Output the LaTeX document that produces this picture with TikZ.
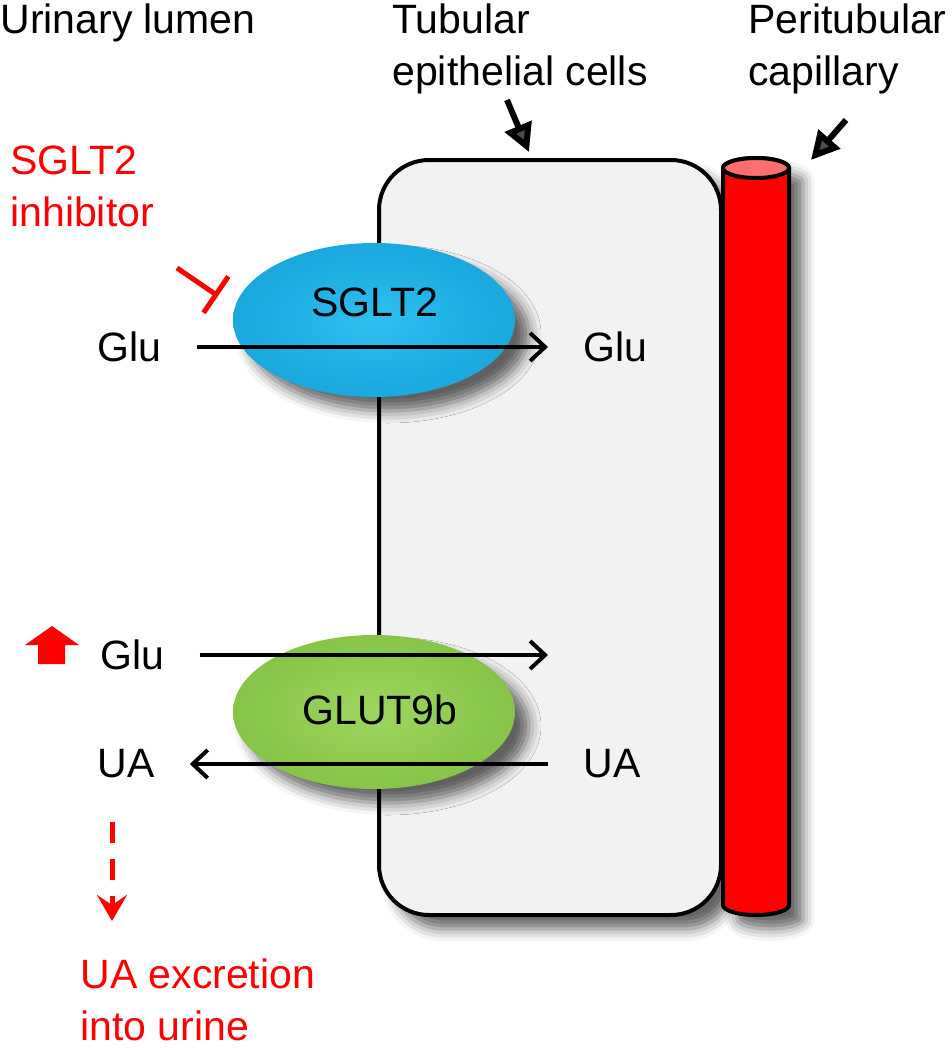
\documentclass[tikz,border=0pt]{standalone}
\usepackage{fontspec}
\setmainfont{Liberation Sans}
\usetikzlibrary{arrows.meta,shapes.geometric,shadows.blur,positioning}

\definecolor{cellgray}{HTML}{F2F2F2}
\definecolor{sgltin}{HTML}{2CC0F0}
\definecolor{sgltout}{HTML}{1AA8DE}
\definecolor{glutin}{HTML}{9CD65E}
\definecolor{glutout}{HTML}{86C548}
\definecolor{captop}{HTML}{FF6F6F}

\begin{document}
\begin{tikzpicture}[x=0.5pt,y=-0.5pt,
  font=\fontsize{20.5}{26}\selectfont,
  lbl/.style={inner sep=0pt, anchor=west},
  toplbl/.style={inner sep=0pt, anchor=north west, align=left},
  shad/.style={blur shadow={shadow xshift=7pt, shadow yshift=-7pt,
      shadow blur radius=6pt, shadow opacity=60}},
  transporter/.style={ellipse, shad, inner sep=0pt,
      minimum width=141pt, minimum height=77pt},
  flow/.style={line width=2pt, shorten <=17.5pt, shorten >=17.5pt,
      -{Straight Barb[length=7.5pt,width=14pt,line width=2pt]}},
  pointer/.style={line width=3pt, -{Triangle[length=14pt,width=14pt]}},
  inhibit/.style={red, line width=2.5pt, -{Bar[width=22pt,line width=2.5pt]}},
  excretion/.style={red, line width=2.5pt, dash pattern=on 10.5pt off 8pt,
      -{Stealth[length=13pt,width=15pt,inset=5pt]}}]
\useasboundingbox (0,0) rectangle (952,1050);

% cellule tubulaire
\draw[line width=2pt, fill=cellgray, shad, rounded corners=25pt]
  (379,160) rectangle (721,915);

% capillaire
\draw[line width=2pt, fill=red, shad]
  (723,168) -- (723,905) arc[start angle=180, end angle=360, x radius=16.5pt, y radius=5pt]
  -- (789,168) arc[start angle=0, end angle=180, x radius=16.5pt, y radius=5pt] -- cycle;
\draw[line width=2pt, fill=captop] (756,168) ellipse [x radius=16.5pt, y radius=5pt];

% transporteurs
\node[transporter, inner color=sgltin, outer color=sgltout] (sglt) at (374,320) {};
\node[inner sep=0pt] (sgltname) at (375,302) {SGLT2};
\node[transporter, inner color=glutin, outer color=glutout] (glut) at (374,712) {};
\node[inner sep=0pt] (glutname) at (380,710) {GLUT9b};

% titres
\node[toplbl] (lumen) at (0,3) {Urinary lumen};
\node[toplbl] (cells) at (392,3) {Tubular\\epithelial cells};
\node[toplbl] (capil) at (748,3) {Peritubular\\capillary};
\node[toplbl, text=red] (inhib) at (10,145) {SGLT2\\inhibitor};
\node[toplbl, text=red] (excr) at (80,958) {UA excretion\\into urine};

\coordinate (cellsTail) at (507,100);
\coordinate (cellsTip) at (529,152);
\coordinate (capilTail) at (846,120);
\coordinate (capilTip) at (811,160);
\draw[pointer] (cellsTail) -- (cellsTip);
\draw[pointer] (capilTail) -- (capilTip);

% glucose / acide urique
\node[lbl] (gluL) at (97,347) {Glu};
\node[lbl] (gluR) at (583,347) {Glu};
\draw[flow] (gluL) -- (gluR);

\node[lbl] (gluL2) at (100,655) {Glu};
\coordinate (gluR2) at (548,655);
\draw[flow, shorten >=0pt] (gluL2) -- (gluR2);

\node[lbl] (uaL) at (97,764) {UA};
\node[lbl] (uaR) at (583,764) {UA};
\draw[flow] (uaR) -- (uaL);

% inhibition
\coordinate (inhStart) at (177,268);
\coordinate (inhEnd) at (218,296);
\draw[inhibit] (inhStart) -- (inhEnd);

% hausse du glucose
\fill[red] (25,645) -- (52,626) -- (79,645) -- (65,645) -- (65,664)
  -- (38,664) -- (38,645) -- cycle;

% excretion
\coordinate (excrTop) at (112,822);
\coordinate (excrTip) at (112,921);
\draw[excretion] (excrTop) -- (excrTip);
\end{tikzpicture}
\end{document}
